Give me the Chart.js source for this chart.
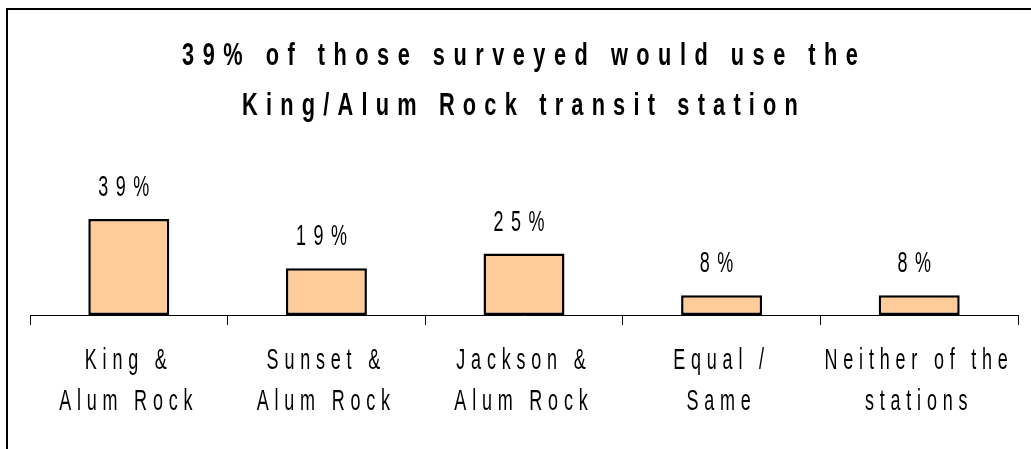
<!DOCTYPE html>
<html>
<head>
<meta charset="utf-8">
<title>King/Alum Rock transit station</title>
<script src="https://cdn.jsdelivr.net/npm/chart.js@4"></script>
<style>
  body { margin: 0; background: #fff; }
  canvas { display: block; }
</style>
</head>
<body>
<canvas id="myChart" width="1031" height="449"></canvas>
<script>
// DATOS DEL GRAFICO
const titulo = ["39% of those surveyed would use the", "King/Alum Rock transit station"];
const categorias = [
  ["King &", "Alum Rock"],
  ["Sunset &", "Alum Rock"],
  ["Jackson &", "Alum Rock"],
  ["Equal /", "Same"],
  ["Neither of the", "stations"]
];
const porcentajes = [39, 19, 25, 8, 8];
const etiquetas = ["39%", "19%", "25%", "8%", "8%"];

const fuente = "'Liberation Sans', Arial, sans-serif";

// DIBUJA TEXTO ANGOSTO Y ESPACIADO, LETRA POR LETRA
function textoEspaciado(ctx, texto, cx, y, font, escala, espacio) {
  ctx.save();
  ctx.font = font;
  ctx.fillStyle = "#000";
  ctx.textAlign = "left";
  ctx.textBaseline = "alphabetic";
  const anchos = [...texto].map((c) => ctx.measureText(c).width * escala);
  const total = anchos.reduce((a, b) => a + b, 0) + espacio * (anchos.length - 1);
  let x = cx - total / 2;
  [...texto].forEach((c, i) => {
    ctx.save();
    ctx.translate(x, y);
    ctx.scale(escala, 1);
    ctx.fillText(c, 0, 0);
    ctx.restore();
    x += anchos[i] + espacio;
  });
  ctx.restore();
}

// PLUGIN PARA MARCO, TITULO, ETIQUETAS Y VALORES
const textosPlugin = {
  id: "textos",
  afterDraw(chart) {
    const ctx = chart.ctx;
    const xScale = chart.scales.x;

    // marco
    ctx.save();
    ctx.strokeStyle = "#000";
    ctx.lineWidth = 2;
    ctx.beginPath();
    ctx.moveTo(1031, 9);
    ctx.lineTo(7, 9);
    ctx.lineTo(7, 449);
    ctx.stroke();
    ctx.restore();

    // titulo
    textoEspaciado(ctx, titulo[0], 520, 65, "bold 32px " + fuente, 0.68, 8.5);
    textoEspaciado(ctx, titulo[1], 520, 115, "bold 32px " + fuente, 0.68, 8.2);

    // etiquetas del eje
    categorias.forEach((lineas, i) => {
      const x = xScale.getPixelForValue(i) - 3;
      textoEspaciado(ctx, lineas[0], x, 369, "29px " + fuente, 0.62, 5.8);
      textoEspaciado(ctx, lineas[1], x, 410, "29px " + fuente, 0.62, 5.8);
    });

    // valores sobre las barras
    const meta = chart.getDatasetMeta(0);
    meta.data.forEach((barra, i) => {
      textoEspaciado(ctx, etiquetas[i], barra.x - 5, barra.y - 23, "29px " + fuente, 0.62, 7.5);
    });
  }
};

// GRAFICO
const ctx = document.getElementById("myChart").getContext("2d");

const myChart = new Chart(ctx, {
  type: "bar",
  data: {
    labels: categorias,
    datasets: [
      {
        data: porcentajes,
        backgroundColor: "#FFCC99",
        borderColor: "#000",
        borderWidth: 2.5,
        borderSkipped: false,
        barPercentage: 0.41,
        categoryPercentage: 1
      }
    ]
  },
  options: {
    responsive: false,
    animation: false,
    devicePixelRatio: 1,
    layout: {
      padding: { left: 30, right: 13, top: 192, bottom: 0 }
    },
    plugins: {
      legend: { display: false },
      title: { display: false },
      tooltip: { enabled: false }
    },
    scales: {
      y: {
        display: false,
        min: 0,
        max: 50
      },
      x: {
        offset: true,
        grid: {
          offset: true,
          drawOnChartArea: false,
          drawTicks: true,
          tickLength: 10,
          color: "#000",
          lineWidth: 1
        },
        border: { display: true, color: "#000", width: 1 },
        ticks: { display: false },
        afterFit: (scale) => {
          scale.height = 134;
        }
      }
    }
  },
  plugins: [textosPlugin]
});
</script>
</body>
</html>
